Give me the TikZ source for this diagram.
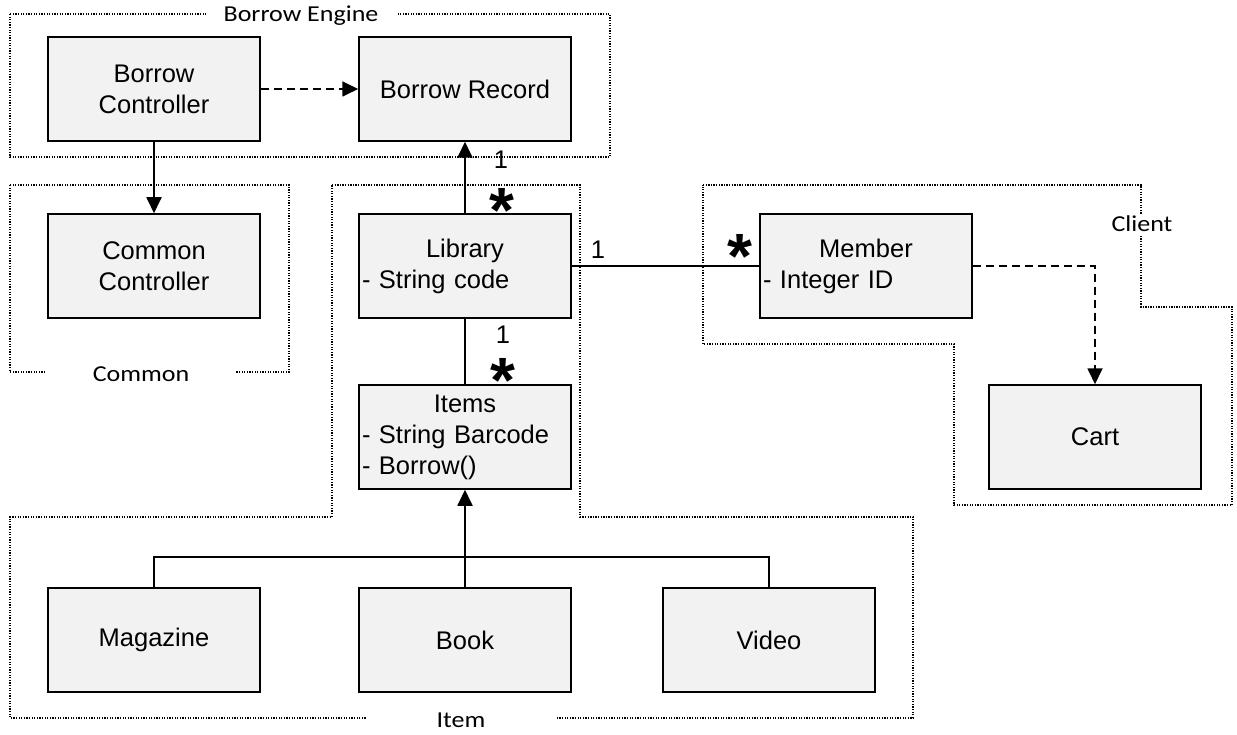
\documentclass[tikz,border=0pt]{standalone}
\usepackage{fontspec}
\setmainfont{Liberation Sans}
\newfontfamily\framefont{Carlito}[FakeStretch=1.14]
\usetikzlibrary{arrows.meta}
\definecolor{boxgray}{HTML}{F2F2F2}
\newcommand\boxfont{\fontsize{25.5}{31}\selectfont}
\newcommand\lblfont{\framefont\fontsize{22.8}{26}\selectfont}
\begin{document}
\begin{tikzpicture}[x=1pt,y=-1pt,
  cls/.style={draw=black, line width=1.5pt, fill=boxgray, minimum width=212pt,
    minimum height=104pt, inner sep=3pt, font=\boxfont, align=center},
  attr/.style={cls, text width=206pt, align=left},
  frame/.style={draw=black, line width=1.2pt, dash pattern=on 1.3pt off 1.3pt},
  flabel/.style={fill=white, minimum width=190pt, inner ysep=2pt, font=\lblfont},
  conn/.style={draw=black, line width=1.8pt},
  dep/.style={conn, dash pattern=on 8pt off 5pt},
  tip/.style={-{Triangle[length=16pt,width=15pt]}},
  mult/.style={font=\boxfont, inner sep=0pt},
  star/.style={font=\bfseries\fontsize{64}{64}\selectfont, inner sep=0pt}]
\useasboundingbox (0,0) rectangle (1237,735);
% frames
\draw[frame] (10,14) rectangle (610,157);
\node[flabel] (fbe) at (301,16) {Borrow Engine};
\draw[frame] (10,185) rectangle (289,372);
\node[flabel] (fco) at (141,374) {Common};
\draw[frame] (332,185) -- (580,185) -- (580,517) -- (913,517) -- (913,718)
  -- (10,718) -- (10,517) -- (332,517) -- cycle;
\node[flabel] (fit) at (461,720) {Item};
\draw[frame] (703,185) -- (1141,185) -- (1141,307) -- (1232,307) -- (1232,505)
  -- (954,505) -- (954,344) -- (703,344) -- cycle;
\node[flabel, minimum width=60pt, inner xsep=0pt] (fcl) at (1142,224) {Client};
% classes
\node[cls] (bc) at (154,89) {Borrow\\Controller};
\node[cls] (br) at (465,89) {Borrow Record};
\node[cls] (cc) at (154,266) {Common\\Controller};
\node[attr] (lib) at (465,266) {\makebox[\linewidth][c]{Library}\\- String code};
\node[attr] (mem) at (866,266) {\makebox[\linewidth][c]{Member}\\- Integer ID};
\node[attr] (items) at (465,437) {\makebox[\linewidth][c]{Items}\\- String Barcode\\- Borrow()};
\node[cls] (cart) at (1095,437) {Cart};
\node[cls] (mag) at (154,640) {Magazine};
\node[cls] (book) at (465,640) {Book};
\node[cls] (video) at (769,640) {Video};
% connectors
\draw[dep, tip] (bc) -- (br);
\draw[conn, tip] (bc.south) -- (cc.north);
\draw[conn, tip] (lib.north) -- (br.south);
\draw[conn] (lib.south) -- (items.north);
\draw[conn] (lib.east) -- (mem.west);
\draw[dep, tip] (mem.east) -| (cart.north);
\draw[conn, tip] (book.north) -- (items.south);
\draw[conn] (mag.north) -- ++(0,-30) coordinate (gl) -| (video.north);
% multiplicities
\node[mult] (m1) at (501,160) {1};
\node[star] (s1) at (502,210) {*};
\node[mult] (m2) at (503,335) {1};
\node[star] (s2) at (503,380) {*};
\node[mult] (m3) at (598,250) {1};
\node[star] (s3) at (740,256) {*};
\end{tikzpicture}
\end{document}
